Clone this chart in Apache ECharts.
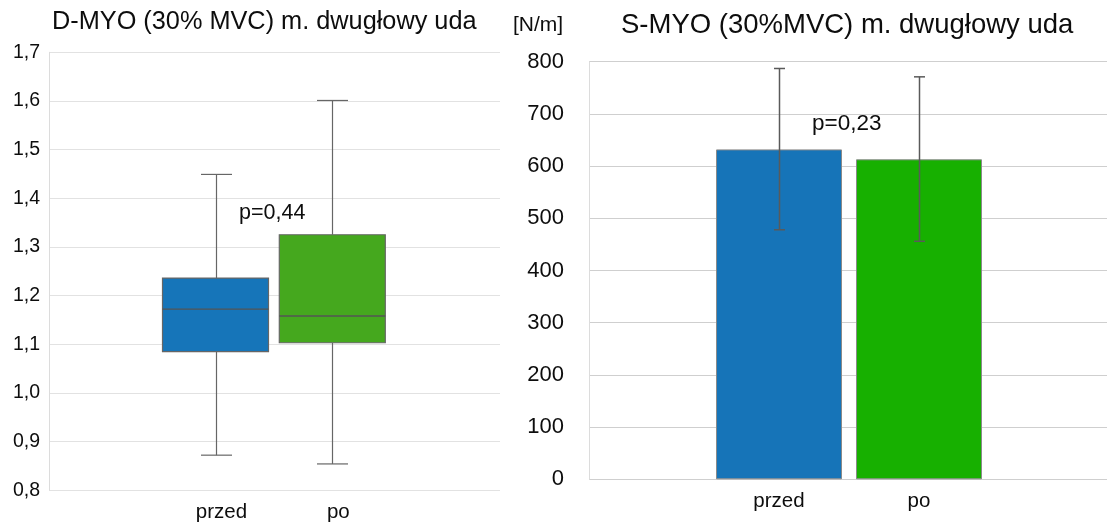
<!DOCTYPE html>
<html>
<head>
<meta charset="utf-8">
<script src="https://cdn.jsdelivr.net/npm/echarts@6/dist/echarts.min.js"></script>
<style>
html,body{margin:0;padding:0;background:#fff;}
#c{width:1107px;height:527px;}
</style>
</head>
<body>
<div id="c"></div>
<script>
// ---- data ----
const categories = ['przed', 'po'];
// left: D-MYO box plot
const boxMin = [0.872, 0.854];
const boxQ1 = [1.085, 1.103];
const boxMedian = [1.172, 1.158];
const boxQ3 = [1.236, 1.325];
const boxMax = [1.449, 1.601];
// right: S-MYO mean with error bars
const barMean = [632, 613];
const barErrLow = [478, 456];
const barErrHigh = [787, 771];
// titles / annotations
const leftTitle = 'D-MYO (30% MVC) m. dwugłowy uda';
const rightTitle = 'S-MYO (30%MVC) m. dwugłowy uda';
const leftP = 'p=0,44';
const rightP = 'p=0,23';
const rightUnit = '[N/m]';

const FONT = '"Liberation Sans", Arial, Helvetica, sans-serif';
const TXT = '#0d0d0d';
const boxColors = ['#1675B9', '#45A81E'];
const barColors = ['#1674B8', '#17B000'];

const boxData = categories.map((c, i) => [i, boxMin[i], boxQ1[i], boxMedian[i], boxQ3[i], boxMax[i]]);
const errData = categories.map((c, i) => [i, barErrLow[i], barErrHigh[i]]);

const chart = echarts.init(document.getElementById('c'), null, {renderer: 'canvas'});

const commaFmt = v => Number(v).toFixed(1).replace('.', ',');

const option = {
  backgroundColor: '#fff',
  animation: false,
  textStyle: {fontFamily: FONT},
  title: [
    {text: leftTitle, left: 47, top: 5, textStyle: {fontFamily: FONT, fontSize: 25.3, fontWeight: 'normal', color: TXT}},
    {text: rightTitle, left: 616, top: 6, textStyle: {fontFamily: FONT, fontSize: 27.5, fontWeight: 'normal', color: TXT}}
  ],
  grid: [
    {left: 49, top: 52.3, width: 451, height: 437.9},          // left frame
    {left: 157.1, top: 52.3, width: 233.6, height: 437.9},     // left categories
    {left: 589, top: 61.7, width: 518, height: 417.6},         // right frame
    {left: 709, top: 61.7, width: 280, height: 417.6}          // right categories
  ],
  xAxis: [
    {gridIndex: 0, type: 'value', show: false, min: 0, max: 1},
    {gridIndex: 1, type: 'category', data: categories, boundaryGap: true,
      axisLine: {show: false}, axisTick: {show: false},
      axisLabel: {fontFamily: FONT, fontSize: 20.5, color: TXT, margin: 12, padding: [0, 0, 0, 12]}},
    {gridIndex: 2, type: 'value', show: false, min: 0, max: 1},
    {gridIndex: 3, type: 'category', data: categories, boundaryGap: true,
      axisLine: {show: false}, axisTick: {show: false},
      axisLabel: {fontFamily: FONT, fontSize: 20.5, color: TXT, margin: 12}}
  ],
  yAxis: [
    {gridIndex: 0, type: 'value', min: 0.8, max: 1.7, interval: 0.1,
      axisLine: {show: true, lineStyle: {color: '#dcdcdc', width: 1}},
      axisTick: {show: false},
      splitLine: {show: true, lineStyle: {color: '#e2e2e2', width: 1}},
      axisLabel: {fontFamily: FONT, fontSize: 19.5, color: TXT, margin: 9, formatter: commaFmt}},
    {gridIndex: 1, type: 'value', min: 0.8, max: 1.7, show: false, splitLine: {show: false}},
    {gridIndex: 2, type: 'value', min: 0, max: 800, interval: 100,
      axisLine: {show: true, lineStyle: {color: '#dcdcdc', width: 1}},
      axisTick: {show: false},
      splitLine: {show: true, lineStyle: {color: '#cfcfcf', width: 1}},
      axisLabel: {fontFamily: FONT, fontSize: 22, color: TXT, margin: 25}},
    {gridIndex: 3, type: 'value', min: 0, max: 800, show: false, splitLine: {show: false}}
  ],
  series: [
    {
      type: 'custom', xAxisIndex: 1, yAxisIndex: 1, z: 5,
      data: boxData,
      encode: {x: 0, y: [1, 2, 3, 4, 5]},
      renderItem: function (params, api) {
        const i = api.value(0);
        const band = api.size([1, 0])[0];
        const bw = band * 106 / 116.8;
        const capW = 31;
        const pMin = api.coord([i, api.value(1)]);
        const pQ1 = api.coord([i, api.value(2)]);
        const pMed = api.coord([i, api.value(3)]);
        const pQ3 = api.coord([i, api.value(4)]);
        const pMax = api.coord([i, api.value(5)]);
        const cx = Math.round(pMed[0]) + 0.5;
        const lineStyle = {stroke: '#666', lineWidth: 1.2};
        return {
          type: 'group',
          children: [
            {type: 'line', shape: {x1: cx, y1: pMax[1], x2: cx, y2: pQ3[1]}, style: lineStyle},
            {type: 'line', shape: {x1: cx, y1: pQ1[1], x2: cx, y2: pMin[1]}, style: lineStyle},
            {type: 'line', shape: {x1: cx - capW / 2, y1: pMax[1], x2: cx + capW / 2, y2: pMax[1]}, style: lineStyle},
            {type: 'line', shape: {x1: cx - capW / 2, y1: pMin[1], x2: cx + capW / 2, y2: pMin[1]}, style: lineStyle},
            {type: 'rect', shape: {x: pMed[0] - bw / 2, y: pQ3[1], width: bw, height: pQ1[1] - pQ3[1]},
              style: {fill: boxColors[i], stroke: '#666', lineWidth: 1.2}},
            {type: 'line', shape: {x1: pMed[0] - bw / 2, y1: pMed[1], x2: pMed[0] + bw / 2, y2: pMed[1]},
              style: {stroke: '#555', lineWidth: 1.3}}
          ]
        };
      }
    },
    {
      type: 'bar', xAxisIndex: 3, yAxisIndex: 3, z: 2,
      barWidth: 126,
      data: barMean.map((v, i) => ({value: v, itemStyle: {color: barColors[i], borderColor: '#8a8a8a', borderWidth: 1}}))
    },
    {
      type: 'custom', xAxisIndex: 3, yAxisIndex: 3, z: 6,
      data: errData,
      encode: {x: 0, y: [1, 2]},
      renderItem: function (params, api) {
        const i = api.value(0);
        const lo = api.coord([i, api.value(1)]);
        const hi = api.coord([i, api.value(2)]);
        const cx = Math.round(lo[0]) + 0.5;
        const capW = 11;
        const s = {stroke: '#5a5a5a', lineWidth: 1.5};
        return {
          type: 'group',
          children: [
            {type: 'line', shape: {x1: cx, y1: hi[1], x2: cx, y2: lo[1]}, style: s},
            {type: 'line', shape: {x1: cx - capW / 2, y1: hi[1], x2: cx + capW / 2, y2: hi[1]}, style: s},
            {type: 'line', shape: {x1: cx - capW / 2, y1: lo[1], x2: cx + capW / 2, y2: lo[1]}, style: s}
          ]
        };
      }
    }
  ],
  graphic: [
    {type: 'text', left: 239, top: 202, z: 10,
      style: {text: leftP, fontFamily: FONT, fontSize: 21.5, fill: TXT}},
    {type: 'text', left: 812, top: 112, z: 10,
      style: {text: rightP, fontFamily: FONT, fontSize: 22.5, fill: TXT}},
    {type: 'text', left: 513, top: 15, z: 10,
      style: {text: rightUnit, fontFamily: FONT, fontSize: 21, fill: TXT}}
  ]
};
chart.setOption(option);
</script>
</body>
</html>
